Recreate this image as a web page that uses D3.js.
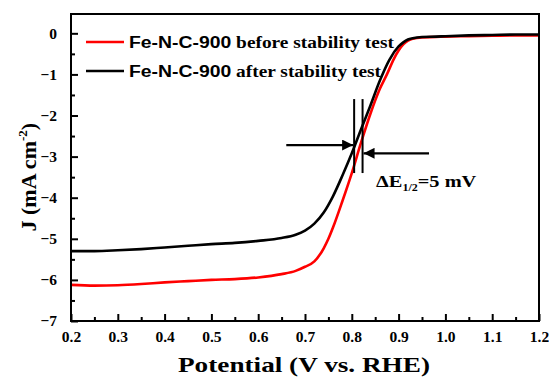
<!DOCTYPE html>
<html><head><meta charset="utf-8">
<script src="https://cdn.jsdelivr.net/npm/d3@7"></script>
<style>body{margin:0;background:#fff}svg{display:block}</style>
</head><body>
<svg id="c" width="549" height="378"></svg>
<script>
const seriesNames = ["Fe-N-C-900 before stability test", "Fe-N-C-900 after stability test"];
const beforeV = [0.20,0.25,0.30,0.35,0.40,0.45,0.50,0.55,0.60,0.65,0.68,0.70,0.72,0.74,0.75,0.76,0.78,0.80,0.82,0.84,0.86,0.875,0.89,0.90,0.91,0.92,0.93,0.95,0.98,1.00,1.05,1.10,1.15,1.20];
const beforeJ = [-6.12,-6.14,-6.13,-6.10,-6.06,-6.03,-6.00,-5.98,-5.94,-5.86,-5.78,-5.68,-5.55,-5.23,-5.00,-4.72,-4.08,-3.40,-2.65,-1.95,-1.35,-1.00,-0.62,-0.42,-0.27,-0.18,-0.13,-0.10,-0.09,-0.08,-0.07,-0.06,-0.05,-0.05];
const afterV = [0.20,0.25,0.30,0.35,0.40,0.45,0.50,0.55,0.60,0.65,0.68,0.70,0.72,0.74,0.76,0.78,0.80,0.82,0.84,0.86,0.88,0.90,0.91,0.92,0.93,0.95,0.98,1.00,1.05,1.10,1.15,1.20];
const afterJ = [-5.30,-5.30,-5.28,-5.25,-5.21,-5.17,-5.13,-5.10,-5.05,-4.98,-4.90,-4.80,-4.63,-4.36,-3.96,-3.46,-2.92,-2.33,-1.75,-1.15,-0.65,-0.32,-0.22,-0.15,-0.12,-0.09,-0.08,-0.07,-0.05,-0.04,-0.03,-0.03];
const xTicks = [0.2,0.3,0.4,0.5,0.6,0.7,0.8,0.9,1.0,1.1,1.2];
const yTicks = [0,-1,-2,-3,-4,-5,-6,-7];
const colors = ["#ff0000", "#000000"];

const svg = d3.select("#c");
const L = 71, R = 539, T = 14, B = 321;
const x = d3.scaleLinear().domain([0.2, 1.2]).range([L, R]);
const y = d3.scaleLinear().domain([-7, 0.47]).range([B, T]);
const serif = "'Liberation Serif','Times New Roman',serif";
const sans = "'Liberation Sans',Arial,sans-serif";

// curves
const line = d3.line().x(d => x(d[0])).y(d => y(d[1])).curve(d3.curveMonotoneX);
const data = [d3.zip(beforeV, beforeJ), d3.zip(afterV, afterJ)];
data.forEach((d, i) => {
  svg.append("path").datum(d).attr("d", line).attr("fill", "none")
    .attr("stroke", colors[i]).attr("stroke-width", 2.6);
});

// frame
svg.append("rect").attr("x", L).attr("y", T).attr("width", R - L).attr("height", B - T)
  .attr("fill", "none").attr("stroke", "#000").attr("stroke-width", 2);

// axes
const xAxis = d3.axisBottom(x).tickValues(xTicks).tickSize(-7).tickPadding(12)
  .tickFormat(d3.format(".1f"));
const gx = svg.append("g").attr("transform", `translate(0,${B})`).call(xAxis);
const xMinor = d3.axisBottom(x).tickValues(d3.range(0.25, 1.2, 0.1)).tickSize(-4).tickFormat("");
svg.append("g").attr("transform", `translate(0,${B})`).call(xMinor);

const yAxis = d3.axisLeft(y).tickValues(yTicks).tickSize(-7).tickPadding(14)
  .tickFormat(d3.format("d"));
svg.append("g").attr("transform", `translate(${L},0)`).call(yAxis);
const yMinor = d3.axisLeft(y).tickValues(d3.range(-6.5, 0.1, 1)).tickSize(-4).tickFormat("");
svg.append("g").attr("transform", `translate(${L},0)`).call(yMinor);

svg.selectAll(".domain").remove();
svg.selectAll(".tick line").attr("stroke", "#000").attr("stroke-width", 2);
svg.selectAll(".tick text").attr("font-family", serif).attr("font-weight", "bold")
  .attr("font-size", 15.5).attr("fill", "#000");
gx.selectAll(".tick text").attr("dy", "0.6em");

// axis titles
svg.append("text").attr("x", 304).attr("y", 372).attr("text-anchor", "middle")
  .attr("font-family", serif).attr("font-weight", "bold").attr("font-size", 22)
  .attr("textLength", 252).attr("lengthAdjust", "spacingAndGlyphs")
  .text("Potential (V vs. RHE)");
const yt = svg.append("text").attr("transform", `translate(36,${y(-3.5)})rotate(-90)`)
  .attr("text-anchor", "middle").attr("font-family", serif).attr("font-weight", "bold")
  .attr("font-size", 22);
yt.append("tspan").text("J (mA cm");
yt.append("tspan").attr("font-size", 13).attr("dy", -9).text("-2");
yt.append("tspan").attr("dy", 9).text(")");

// legend
seriesNames.forEach((name, i) => {
  const ly = 42 + i * 29;
  svg.append("line").attr("x1", 86).attr("x2", 124).attr("y1", ly).attr("y2", ly)
    .attr("stroke", colors[i]).attr("stroke-width", 2.6);
  const t = svg.append("text").attr("transform", `translate(129,${ly + 5.5})scale(1.14,1)`)
    .attr("font-weight", "bold").attr("font-size", 17).attr("fill", "#000");
  const parts = name.split(" ");
  t.append("tspan").attr("font-family", sans).text(parts[0]);
  t.append("tspan").attr("font-family", serif).text(" " + parts.slice(1).join(" "));
});

// annotation
const vx1 = 0.805, vx2 = 0.823;
[vx1, vx2].forEach(v => {
  svg.append("line").attr("x1", x(v)).attr("x2", x(v)).attr("y1", y(-1.6)).attr("y2", y(-3.4))
    .attr("stroke", "#000").attr("stroke-width", 2);
});
const defs = svg.append("defs");
defs.append("marker").attr("id", "ah").attr("viewBox", "0 0 10 10").attr("refX", 10).attr("refY", 5)
  .attr("markerWidth", 6).attr("markerHeight", 5).attr("markerUnits", "strokeWidth").attr("orient", "auto")
  .append("path").attr("d", "M0,0L10,5L0,10z").attr("fill", "#000");
svg.append("line").attr("x1", x(0.66)).attr("x2", x(vx1) - 1).attr("y1", y(-2.72)).attr("y2", y(-2.72))
  .attr("stroke", "#000").attr("stroke-width", 2.2).attr("marker-end", "url(#ah)");
svg.append("line").attr("x1", x(0.965)).attr("x2", x(vx2) + 1).attr("y1", y(-2.92)).attr("y2", y(-2.92))
  .attr("stroke", "#000").attr("stroke-width", 2.2).attr("marker-end", "url(#ah)");
const at = svg.append("text").attr("transform", "translate(376,187)scale(1.2,1)").attr("font-family", serif)
  .attr("font-weight", "bold").attr("font-size", 17);
at.append("tspan").text("ΔE");
at.append("tspan").attr("font-size", 10).attr("dy", 4).text("1/2");
at.append("tspan").attr("dy", -4).text("=5 mV");
</script>
</body></html>
